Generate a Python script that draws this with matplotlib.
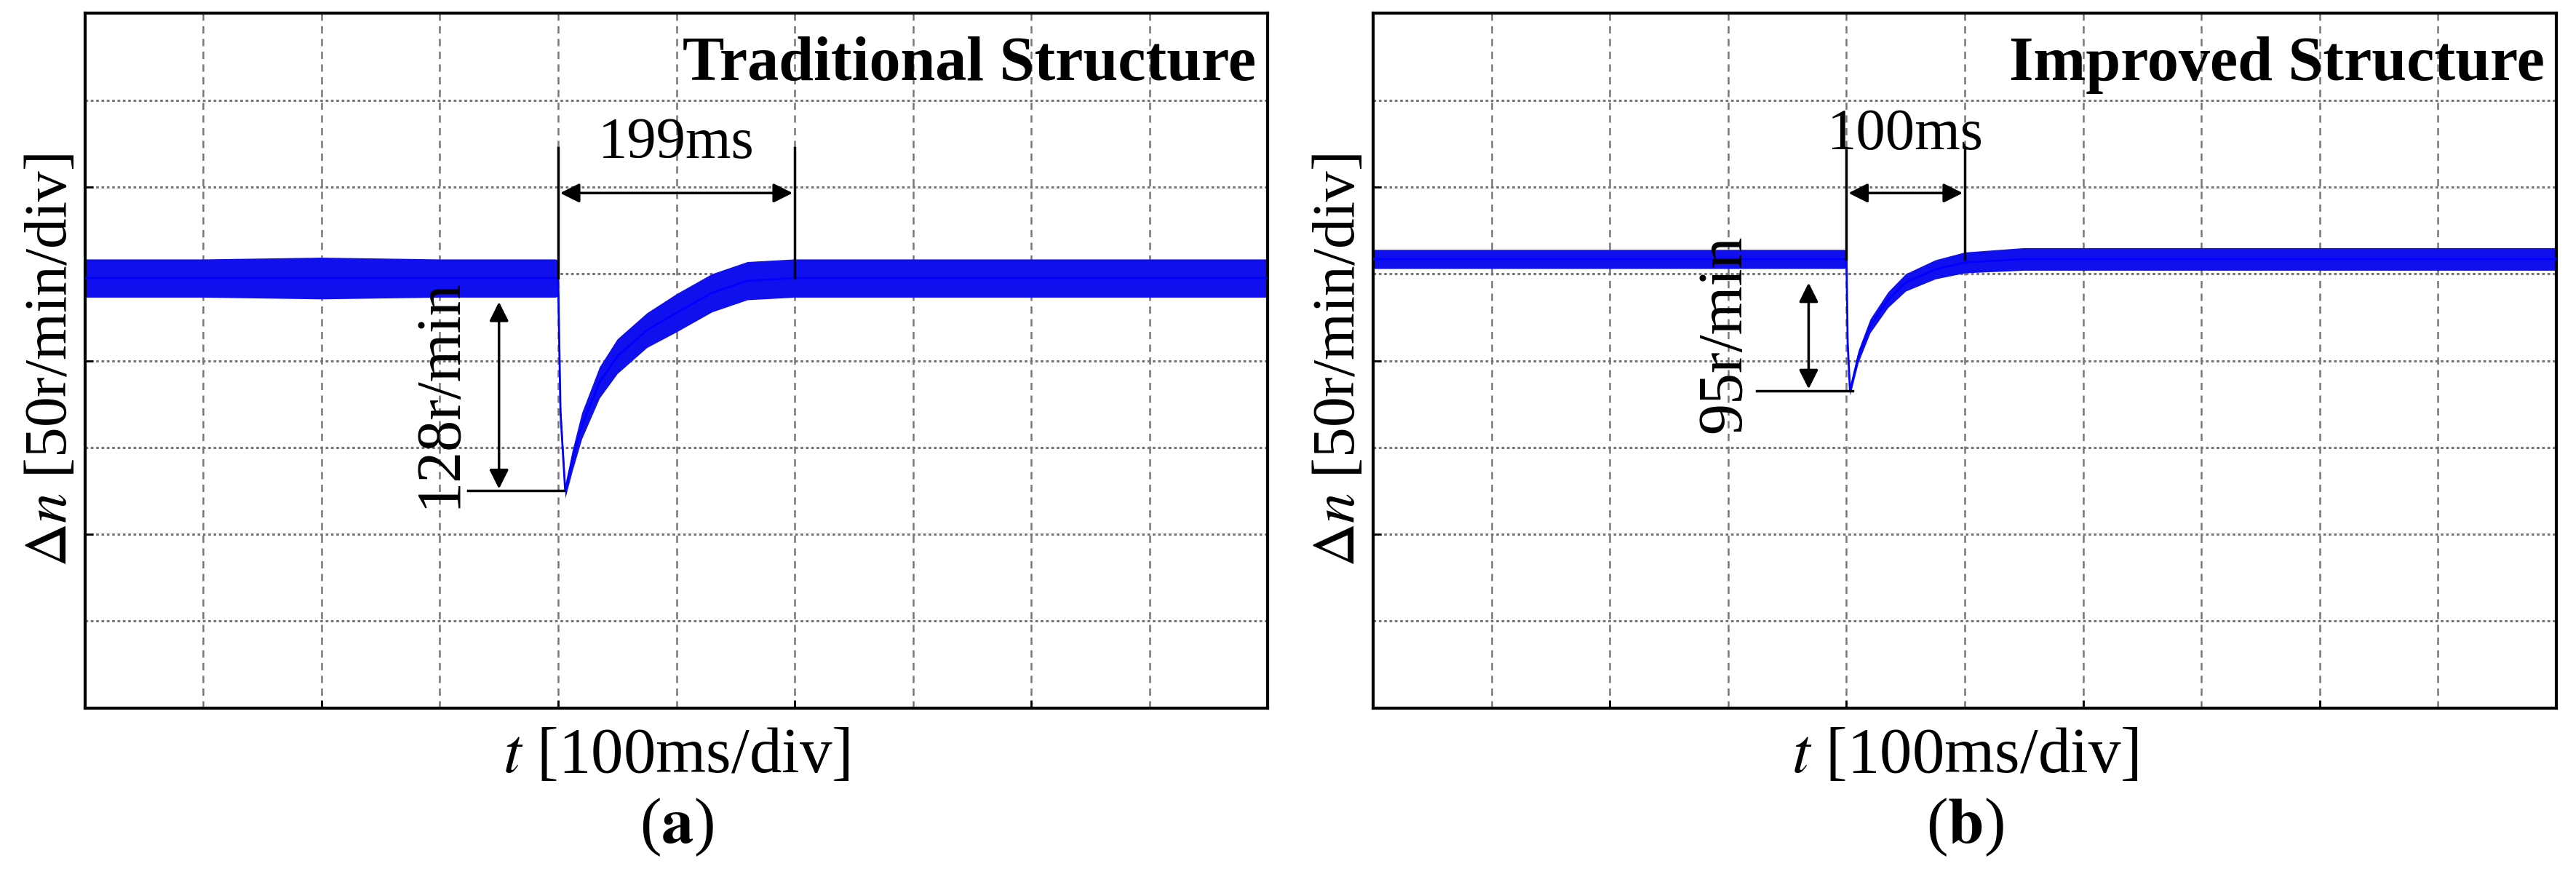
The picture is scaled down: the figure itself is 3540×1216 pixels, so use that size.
import matplotlib
matplotlib.use("Agg")
import matplotlib.pyplot as plt
import numpy as np

plt.rcParams['font.family'] = ['Liberation Serif', 'DejaVu Serif']
plt.rcParams['mathtext.fontset'] = 'stix'

# trace (a): time in div, speed in div, noise half-width in div
ta = [0, 1, 2, 3, 3.98, 4.0, 4.02, 4.06, 4.12, 4.2, 4.35, 4.5, 4.75, 5.0, 5.3, 5.6, 6.0, 7, 8, 9, 10]
ya = [4.95, 4.95, 4.95, 4.95, 4.95, 4.95, 3.4, 2.5, 2.85, 3.25, 3.75, 4.05, 4.35, 4.55, 4.78, 4.92, 4.95, 4.95, 4.95, 4.95, 4.95]
wa = [0.22, 0.22, 0.24, 0.22, 0.22, 0.2, 0.12, 0.08, 0.12, 0.15, 0.18, 0.2, 0.2, 0.22, 0.22, 0.22, 0.22, 0.22, 0.22, 0.22, 0.22]
# trace (b)
tb = [0, 1, 2, 3, 3.98, 4.0, 4.01, 4.03, 4.1, 4.2, 4.35, 4.5, 4.75, 5.0, 5.5, 6, 7, 8, 9, 10]
yb = [5.17, 5.17, 5.17, 5.17, 5.17, 5.17, 4.2, 3.65, 4.05, 4.4, 4.7, 4.9, 5.05, 5.13, 5.17, 5.17, 5.17, 5.17, 5.17, 5.17]
wb = [0.11, 0.11, 0.11, 0.11, 0.11, 0.1, 0.06, 0.05, 0.07, 0.08, 0.09, 0.1, 0.11, 0.12, 0.13, 0.13, 0.13, 0.13, 0.13, 0.13]

titles = ["Traditional Structure", "Improved Structure"]
time_lbl = ["199ms", "100ms"]
dip_lbl = ["128r/min", "95r/min"]
t_end = [6.0, 5.0]
sub = ["a", "b"]

fig = plt.figure(figsize=(35.41, 12.16), dpi=100)
lefts = [0.033, 0.533]
W = 0.459
for i, (t, y, w) in enumerate([(ta, ya, wa), (tb, yb, wb)]):
    ax = fig.add_axes([lefts[i], 0.2, W, 0.785])
    ax.set_xlim(0, 10); ax.set_ylim(0, 8)
    for gx in range(1, 10):
        ax.axvline(gx, color='#777777', ls=(0, (4, 3)), lw=1.8, zorder=1)
    for gy in range(1, 8):
        ax.axhline(gy, color='#777777', ls=(0, (1.2, 1.2)), lw=2.2, zorder=1)
    t = np.array(t); y = np.array(y); w = np.array(w)
    ax.fill_between(t, y - w, y + w, color='#1010ee', lw=0, zorder=2)
    ax.plot(t, y, color='#0000ff', lw=2, zorder=3)
    ax.set_xticks([2, 4, 6, 8]); ax.set_yticks([2, 4, 6])
    ax.tick_params(direction='in', length=8, width=2, labelbottom=False, labelleft=False)
    for s in ax.spines.values():
        s.set_linewidth(3)
    ax.text(9.9, 7.4, titles[i], ha='right', va='center', fontsize=62, fontweight='bold')
    base = y[0]; dip = y.min()
    te = t_end[i]
    ax.plot([4, 4], [base, 6.45], color='k', lw=2.5, zorder=4)
    ax.plot([te, te], [base, 6.45], color='k', lw=2.5, zorder=4)
    ax.annotate('', xy=(4, 5.93), xytext=(te, 5.93),
                arrowprops=dict(arrowstyle='<|-|>', color='k', lw=2.5, mutation_scale=40), zorder=4)
    ax.text((4 + te) / 2, 6.5 if i == 0 else 6.6, time_lbl[i], ha='center', va='center', fontsize=58)
    ax.plot([3.24, 4.05], [dip, dip], color='k', lw=2.5, zorder=4)
    xa = 3.5 if i == 0 else 3.68
    ax.annotate('', xy=(xa, dip), xytext=(xa, base - 0.25),
                arrowprops=dict(arrowstyle='<|-|>', color='k', lw=2.5, mutation_scale=40), zorder=4)
    ax.text(3.0 if i == 0 else 2.97, (dip + base) / 2 - 0.1, dip_lbl[i], rotation=90,
            ha='center', va='center', fontsize=62)
    ax.set_ylabel(r'$\Delta\mathit{n}$ [50r/min/div]', fontsize=60, labelpad=6)
    fig.text(lefts[i] + W / 2, 0.145, r'$\mathit{t}$ [100ms/div]', ha='center', va='center', fontsize=64)
    fig.text(lefts[i] + W / 2, 0.065, '(' + r'$\mathbf{' + sub[i] + '}$' + ')', ha='center', va='center', fontsize=64)

fig.savefig('out.png', dpi=100)
